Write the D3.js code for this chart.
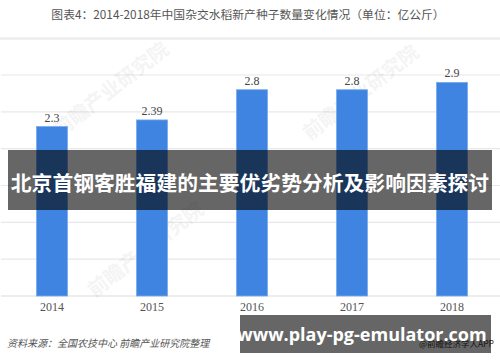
<!DOCTYPE html>
<html><head><meta charset="utf-8">
<script src="https://cdn.jsdelivr.net/npm/d3@7"></script>
<style>body{margin:0;background:#fff}svg{display:block}</style>
</head><body>
<svg id="c" width="500" height="362"></svg>
<script>
const years = ["2014","2015","2016","2017","2018"];
const values = [2.3, 2.39, 2.8, 2.8, 2.9];
const valueLabels = ["2.3","2.39","2.8","2.8","2.9"];
const yTicks = [0,0.5,1,1.5,2,2.5,3];
const title = "图表4：2014-2018年中国杂交水稻新产种子数量变化情况（单位：亿公斤）";
const source = "资料来源：全国农技中心 前瞻产业研究院整理";
const credit = "@前瞻经济学人APP";
const banner = "北京首钢客胜福建的主要优劣势分析及影响因素探讨";
const url = "www.play-pg-emulator.com";
const watermark = "前瞻产业研究院";

const svg = d3.select("#c");
const sans = "'Noto Sans CJK SC','Noto Sans',sans-serif";
const serif = "'Liberation Serif','DejaVu Serif',serif";

const x = d3.scaleBand().domain(years).range([2,502]).paddingInner(0.69).paddingOuter(0.345);
const y = d3.scaleLinear().domain([0,3]).range([296,75]);

// title
svg.append("text").attr("x",248).attr("y",19).attr("text-anchor","middle")
  .attr("font-family",sans).attr("font-size",11.8).attr("fill","#555").text(title);
// separator band
svg.append("rect").attr("x",0).attr("y",37).attr("width",500).attr("height",3).attr("fill","#f0f0f0");

// grid
svg.append("g").selectAll("line").data(yTicks).join("line")
  .attr("x1",1).attr("x2",500).attr("y1",d=>y(d)).attr("y2",d=>y(d))
  .attr("stroke",d=>d===0?"#dcdcdc":"#e8e8e8").attr("stroke-width",1.2);

// watermarks
const wm = [[115,95],[365,98],[150,255]];
svg.append("g").selectAll("text").data(wm).join("text")
  .attr("transform",d=>`translate(${d[0]},${d[1]}) rotate(-38)`)
  .attr("text-anchor","middle").attr("font-family",sans).attr("font-weight","bold")
  .attr("font-size",20).attr("fill","#000").attr("opacity",0.04).text(watermark);

// bars
svg.append("g").selectAll("rect").data(values).join("rect")
  .attr("x",(d,i)=>x(years[i])).attr("width",x.bandwidth())
  .attr("y",d=>y(d)).attr("height",d=>y(0)-y(d))
  .attr("fill","#3f84e0").attr("stroke","#78aaee").attr("stroke-width",0.8);

// value labels
svg.append("g").selectAll("text").data(values).join("text")
  .attr("x",(d,i)=>x(years[i])+x.bandwidth()/2).attr("y",d=>y(d)-5)
  .attr("text-anchor","middle").attr("font-family",serif).attr("font-size",12)
  .attr("fill","#444").text((d,i)=>valueLabels[i]);

// x axis labels
const xAxis = d3.axisBottom(x).tickSize(0).tickPadding(0);
const gx = svg.append("g").attr("transform","translate(0,300)").call(xAxis);
gx.select(".domain").remove();
gx.selectAll("text").attr("font-family",serif).attr("font-size",12).attr("fill","#555").attr("dy","0.95em");

// source
svg.append("text").attr("x",7).attr("y",347).attr("font-family",sans).attr("font-style","italic")
  .attr("font-size",10).attr("fill","#555").text(source);
// credit
svg.append("text").attr("x",494).attr("y",347).attr("text-anchor","end").attr("font-family",sans)
  .attr("font-size",8.5).attr("fill","#333").text(credit);

// overlay banners
svg.append("rect").attr("x",8).attr("y",150).attr("width",484).attr("height",60).attr("fill","rgba(0,0,0,0.6)");
svg.append("text").attr("x",250).attr("y",190.5).attr("text-anchor","middle").attr("font-family",sans)
  .attr("font-weight","bold").attr("font-size",20.8).attr("fill","#fff").text(banner);
svg.append("rect").attr("x",240).attr("y",315).attr("width",251).attr("height",38).attr("fill","rgba(0,0,0,0.6)");
svg.append("text").attr("x",362).attr("y",341).attr("text-anchor","middle").attr("font-family","'Open Sans','Noto Sans',sans-serif")
  .attr("font-weight","bold").attr("font-size",18).attr("fill","#fff").text(url);
</script>
</body></html>
